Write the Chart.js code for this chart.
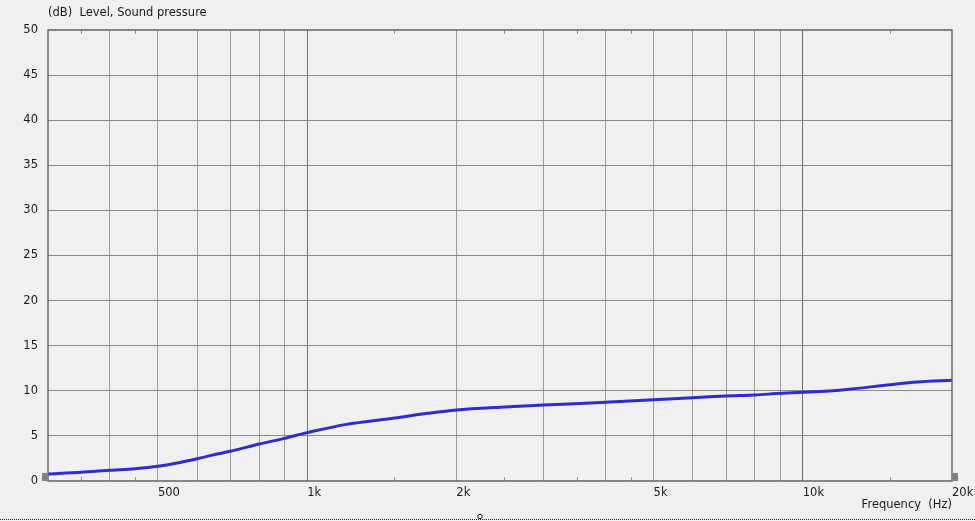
<!DOCTYPE html>
<html>
<head>
<meta charset="utf-8">
<script src="https://cdn.jsdelivr.net/npm/chart.js@4.4.1/dist/chart.umd.min.js"></script>
<style>
  html, body { margin: 0; padding: 0; background: #f0f0f0; }
  canvas { display: block; }
</style>
</head>
<body>
<canvas id="myChart" width="975" height="521"></canvas>
<script>
// 주파수 (Hz) 와 음압 레벨 (dB) - 그림에서 읽은 값
const freqs = [300, 350, 400, 450, 500, 550, 600, 650, 700, 800, 900, 1000, 1200, 1500, 1750, 2000, 2500, 3000, 4000, 5000, 6000, 7000, 8000, 9000, 10000, 12000, 15000, 17000, 20000];
const levels = [0.78, 0.96, 1.19, 1.37, 1.63, 2.03, 2.47, 2.92, 3.3, 4.1, 4.73, 5.36, 6.28, 6.98, 7.5, 7.87, 8.2, 8.43, 8.72, 9.0, 9.23, 9.42, 9.53, 9.72, 9.83, 10.1, 10.68, 10.98, 11.16];

// x축 격자선 / 라벨 / 작은 눈금
const gridFreqs = [300, 400, 500, 600, 700, 800, 900, 1000, 2000, 3000, 4000, 5000, 6000, 7000, 8000, 9000, 10000, 20000];
const majorFreqs = [1000, 10000];
const tickLabels = { 500: '500', 1000: '1k', 2000: '2k', 5000: '5k', 10000: '10k', 20000: '20k' };
const minorFreqs = [350, 450, 1500, 2500, 3500, 4500, 15000];

const yTitle = '(dB)  Level, Sound pressure';
const xTitle = 'Frequency  (Hz)';

const FONT = "'DejaVu Sans', Verdana, sans-serif";
const FSIZE = 11.5;
const TEXT = '#1a1a1a';

// 배경, 테두리, 작은 눈금, 기타 장식
const decoPlugin = {
  id: 'deco',
  beforeDraw(chart) {
    const c = chart.ctx;
    c.save();
    c.fillStyle = '#f0f0f0';
    c.fillRect(0, 0, chart.width, chart.height);
    c.restore();
  },
  afterDatasetsDraw(chart) {
    const c = chart.ctx;
    const a = chart.chartArea;
    const xs = chart.scales.x;
    c.save();
    // 작은 눈금 (위/아래)
    c.strokeStyle = '#8c8c8c';
    c.lineWidth = 1;
    minorFreqs.forEach(f => {
      const px = Math.round(xs.getPixelForValue(f)) + 0.5;
      c.beginPath();
      c.moveTo(px, a.bottom);
      c.lineTo(px, a.bottom - 4);
      c.moveTo(px, a.top);
      c.lineTo(px, a.top + 4);
      c.stroke();
    });
    // 테두리
    c.strokeStyle = '#646464';
    c.lineWidth = 1.5;
    c.strokeRect(a.left, a.top, a.right - a.left, a.bottom - a.top);
    // 좌우 회색 마커
    c.fillStyle = '#808080';
    c.fillRect(a.left - 6, a.bottom - 8, 5, 8);
    c.fillRect(a.right + 1, a.bottom - 8, 5, 8);
    // y축 제목
    c.fillStyle = TEXT;
    c.font = FSIZE + 'px ' + FONT;
    c.textAlign = 'left';
    c.textBaseline = 'middle';
    c.fillText(yTitle, a.left, 13);
    // 아래 점선, 작은 원
    c.strokeStyle = '#202020';
    c.lineWidth = 1;
    c.setLineDash([1, 1]);
    c.beginPath();
    c.moveTo(0, 519.5);
    c.lineTo(chart.width, 519.5);
    c.stroke();
    c.setLineDash([]);
    c.beginPath();
    c.arc(480, 516.5, 2.2, 0, Math.PI * 2);
    c.stroke();
    c.restore();
  }
};

const ctx = document.getElementById('myChart').getContext('2d');
const myChart = new Chart(ctx, {
  type: 'line',
  data: {
    datasets: [{
      data: freqs.map((f, i) => ({ x: f, y: levels[i] })),
      borderColor: '#2b2bd8',
      borderWidth: 3,
      pointRadius: 0,
      tension: 0.3,
      fill: false
    }]
  },
  options: {
    responsive: false,
    animation: false,
    layout: { padding: { top: 30, right: 23, left: 0, bottom: 0 } },
    plugins: {
      legend: { display: false },
      tooltip: { enabled: false }
    },
    scales: {
      x: {
        type: 'logarithmic',
        min: 300,
        max: 20000,
        afterBuildTicks(scale) {
          scale.ticks = gridFreqs.map(v => ({ value: v }));
        },
        afterFit(scale) {
          scale.height = 40;
          // 20k 라벨이 플롯 폭을 줄이지 않도록
          scale.paddingLeft = 0;
          scale.paddingRight = 0;
        },
        grid: {
          drawTicks: false,
          color(c) {
            const v = c.tick && c.tick.value;
            if (v === 300 || v === 20000) return 'rgba(0,0,0,0)';
            return majorFreqs.includes(v) ? '#6e6e6e' : '#9a9a9a';
          },
          lineWidth: 1
        },
        border: { display: false },
        ticks: {
          autoSkip: false,
          maxRotation: 0,
          align: 'start',
          padding: 5,
          color: TEXT,
          font: { family: FONT, size: FSIZE },
          callback(value) { return tickLabels[value] || ''; }
        },
        title: {
          display: true,
          text: xTitle,
          align: 'end',
          color: TEXT,
          font: { family: FONT, size: FSIZE },
          padding: { top: 9, bottom: 9 }
        }
      },
      y: {
        min: 0,
        max: 50,
        afterFit(scale) {
          scale.width = 48;
          scale.paddingTop = 0;
          scale.paddingBottom = 0;
        },
        grid: {
          drawTicks: false,
          color(c) {
            const v = c.tick && c.tick.value;
            return (v === 0 || v === 50) ? 'rgba(0,0,0,0)' : '#8a8a8a';
          },
          lineWidth: 1
        },
        border: { display: false },
        ticks: {
          stepSize: 5,
          padding: 10,
          color: TEXT,
          font: { family: FONT, size: FSIZE }
        }
      }
    }
  },
  plugins: [decoPlugin]
});
</script>
</body>
</html>
